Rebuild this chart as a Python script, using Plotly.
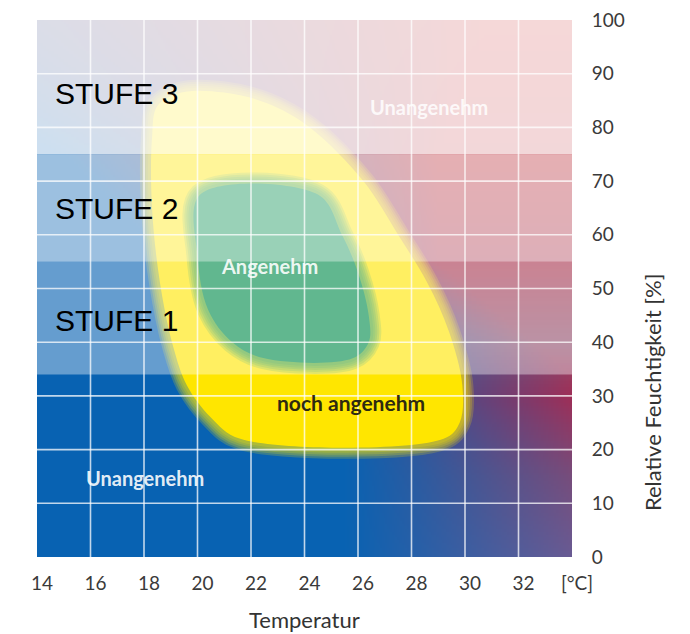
import numpy as np
import plotly.graph_objects as go

# ---------------- data ----------------
temp_range = [14, 34]
hum_range = [0, 100]
temp_ticks = [14, 16, 18, 20, 22, 24, 26, 28, 30, 32, 34]
temp_ticktext = ["14", "16", "18", "20", "22", "24", "26", "28", "30", "32", "[°C]"]
hum_ticks = [0, 10, 20, 30, 40, 50, 60, 70, 80, 90, 100]
grid_temps = [16, 18, 20, 22, 24, 26, 28, 30, 32]
grid_hums = [10, 20, 30, 40, 50, 60, 70, 80, 90]

# humidity bands (Stufen) and their white veil
band_edges = [0, 34, 55, 75, 100]
band_veil = [0.0, 0.38, 0.60, 0.80]
stufe_labels = ["STUFE 1", "STUFE 2", "STUFE 3"]
stufe_hum = [44.0, 64.9, 86.4]
stufe_temp = [14.6, 14.6, 14.6]

# comfort zones (temperature °C, relative humidity %)
yellow_T = [18.5, 19.4, 21.0, 22.6, 24.2, 26.2, 27.5, 28.6, 29.4, 29.9, 29.8, 29.2, 21.6, 20.5, 19.6, 19.1, 18.6, 18.3, 18.3, 18.5]
yellow_H = [84.0, 86.5, 86.5, 84.5, 80.0, 70.0, 60.0, 51.0, 42.0, 32.0, 25.0, 22.0, 22.0, 26.0, 32.0, 39.0, 51.0, 65.0, 78.0, 84.0]
green_T = [20.1, 24.5, 25.4, 26.0, 26.4, 26.4, 25.8, 22.5, 21.3, 20.4, 20.0, 20.1]
green_H = [67.5, 67.5, 60.0, 53.0, 45.0, 40.0, 37.0, 37.0, 40.0, 46.0, 56.0, 67.5]

zone_labels = ["Unangenehm", "Angenehm", "noch angenehm", "Unangenehm"]
zone_label_T = [28.65, 22.7, 25.75, 18.05]
zone_label_H = [83.8, 54.2, 28.7, 14.7]
zone_label_color = ["rgba(255,255,255,0.85)", "rgba(255,255,255,0.9)", "#2e2a10", "rgba(255,255,255,0.9)"]
zone_label_size = [20, 20, 21, 20]

x_title = "Temperatur"
y_title = "Relative Feuchtigkeit [%]"

# ---------------- background gradient (style) ----------------
tx = np.linspace(temp_range[0], temp_range[1], 321)
hy = np.linspace(hum_range[0], hum_range[1], 201)
TT, HH = np.meshgrid(tx, hy)
blue = np.array([8, 98, 178], dtype=float)
T0 = np.interp(HH, [0, 20, 34, 55, 75, 100], [25.5, 25.5, 25.0, 19.0, 15.0, 5.0])
span = np.interp(HH, [0, 34, 55, 75, 100], [9.0, 9.0, 10.0, 14.0, 26.0])
red_h = [0, 15, 30, 40, 55, 75, 100]
red_c = [(110, 90, 145), (125, 75, 120), (160, 45, 85), (145, 80, 110), (170, 55, 80), (190, 55, 65), (205, 60, 60)]
red = np.stack([np.interp(HH, red_h, [c[i] for c in red_c]) for i in range(3)], axis=-1)
w = np.clip((TT - T0) / span, 0, 1)[..., None]
rgb = np.clip(blue * (1 - w) + red * w, 0, 255).round().astype(int)

fig = go.Figure()
fig.add_trace(go.Image(z=rgb.tolist(), x0=tx[0], dx=tx[1] - tx[0], y0=hy[0], dy=hy[1] - hy[0],
                       hoverinfo="skip"))


def soft_zone(T, H, color):
    r, g, b = color
    for width in [22, 18, 14, 10, 6]:
        fig.add_trace(go.Scatter(x=T, y=H, mode="lines", line=dict(color=f"rgba({r},{g},{b},0.2)",
                                 width=width, shape="spline", smoothing=1.0),
                                 hoverinfo="skip", showlegend=False))
    fig.add_trace(go.Scatter(x=T, y=H, mode="lines", fill="toself",
                             fillcolor=f"rgb({r},{g},{b})",
                             line=dict(color=f"rgba({r},{g},{b},0)", width=0, shape="spline", smoothing=1.0),
                             hoverinfo="skip", showlegend=False))


soft_zone(yellow_T, yellow_H, (255, 230, 0))
soft_zone(green_T, green_H, (0, 140, 75))

shapes = []
for i in range(len(band_veil)):
    if band_veil[i] > 0:
        shapes.append(dict(type="rect", xref="x", yref="y", x0=temp_range[0], x1=temp_range[1],
                           y0=band_edges[i], y1=band_edges[i + 1], layer="above",
                           fillcolor=f"rgba(255,255,255,{band_veil[i]})", line=dict(width=0)))
for t in grid_temps:
    shapes.append(dict(type="line", xref="x", yref="y", x0=t, x1=t, y0=hum_range[0], y1=hum_range[1],
                       layer="above", line=dict(color="rgba(255,255,255,0.75)", width=1.6)))
for h in grid_hums:
    shapes.append(dict(type="line", xref="x", yref="y", x0=temp_range[0], x1=temp_range[1], y0=h, y1=h,
                       layer="above", line=dict(color="rgba(255,255,255,0.75)", width=1.6)))

annotations = []
for lab, t, h in zip(stufe_labels, stufe_temp, stufe_hum):
    annotations.append(dict(x=t, y=h, xref="x", yref="y", text=lab, showarrow=False, xanchor="left",
                            yanchor="middle", font=dict(family="Liberation Sans, Arial", size=30, color="#000")))
for lab, t, h, c, sz in zip(zone_labels, zone_label_T, zone_label_H, zone_label_color, zone_label_size):
    annotations.append(dict(x=t, y=h, xref="x", yref="y", text=lab, showarrow=False,
                            xanchor="center", yanchor="middle",
                            font=dict(family="Lato", size=sz, color=c, weight="bold")))
annotations.append(dict(x=0.5, y=-0.117, xref="paper", yref="paper", text=x_title, showarrow=False,
                        xanchor="center", yanchor="middle", font=dict(family="Lato", size=22, color="#333")))
annotations.append(dict(x=1.1495, y=0.307, xref="paper", yref="paper", text=y_title, showarrow=False,
                        xanchor="center", yanchor="middle",
                        textangle=-90, font=dict(family="Lato", size=22, color="#333")))

# the page body adds an 8 px offset, so the figure is sized to fit the window
fig.update_layout(
    width=682, height=626,
    margin=dict(l=29, r=118, t=12, b=77, autoexpand=False),
    paper_bgcolor="white", plot_bgcolor="white",
    showlegend=False,
    shapes=shapes, annotations=annotations,
    xaxis=dict(range=temp_range, tickvals=temp_ticks, ticktext=temp_ticktext, showgrid=False,
               zeroline=False, ticks="outside", ticklen=9, tickcolor="rgba(0,0,0,0)",
               ticklabelshift=5, ticklabeloverflow="allow", automargin=False,
               tickfont=dict(family="Lato", size=19, color="#3a3a3a"), fixedrange=True),
    yaxis=dict(range=hum_range, tickvals=hum_ticks, side="right", showgrid=False, zeroline=False,
               ticks="outside", ticklen=15, tickcolor="rgba(0,0,0,0)", scaleanchor=False,
               ticklabeloverflow="allow", automargin=False,
               tickfont=dict(family="Lato", size=19, color="#3a3a3a"), fixedrange=True),
)

fig.write_html("out.html")
